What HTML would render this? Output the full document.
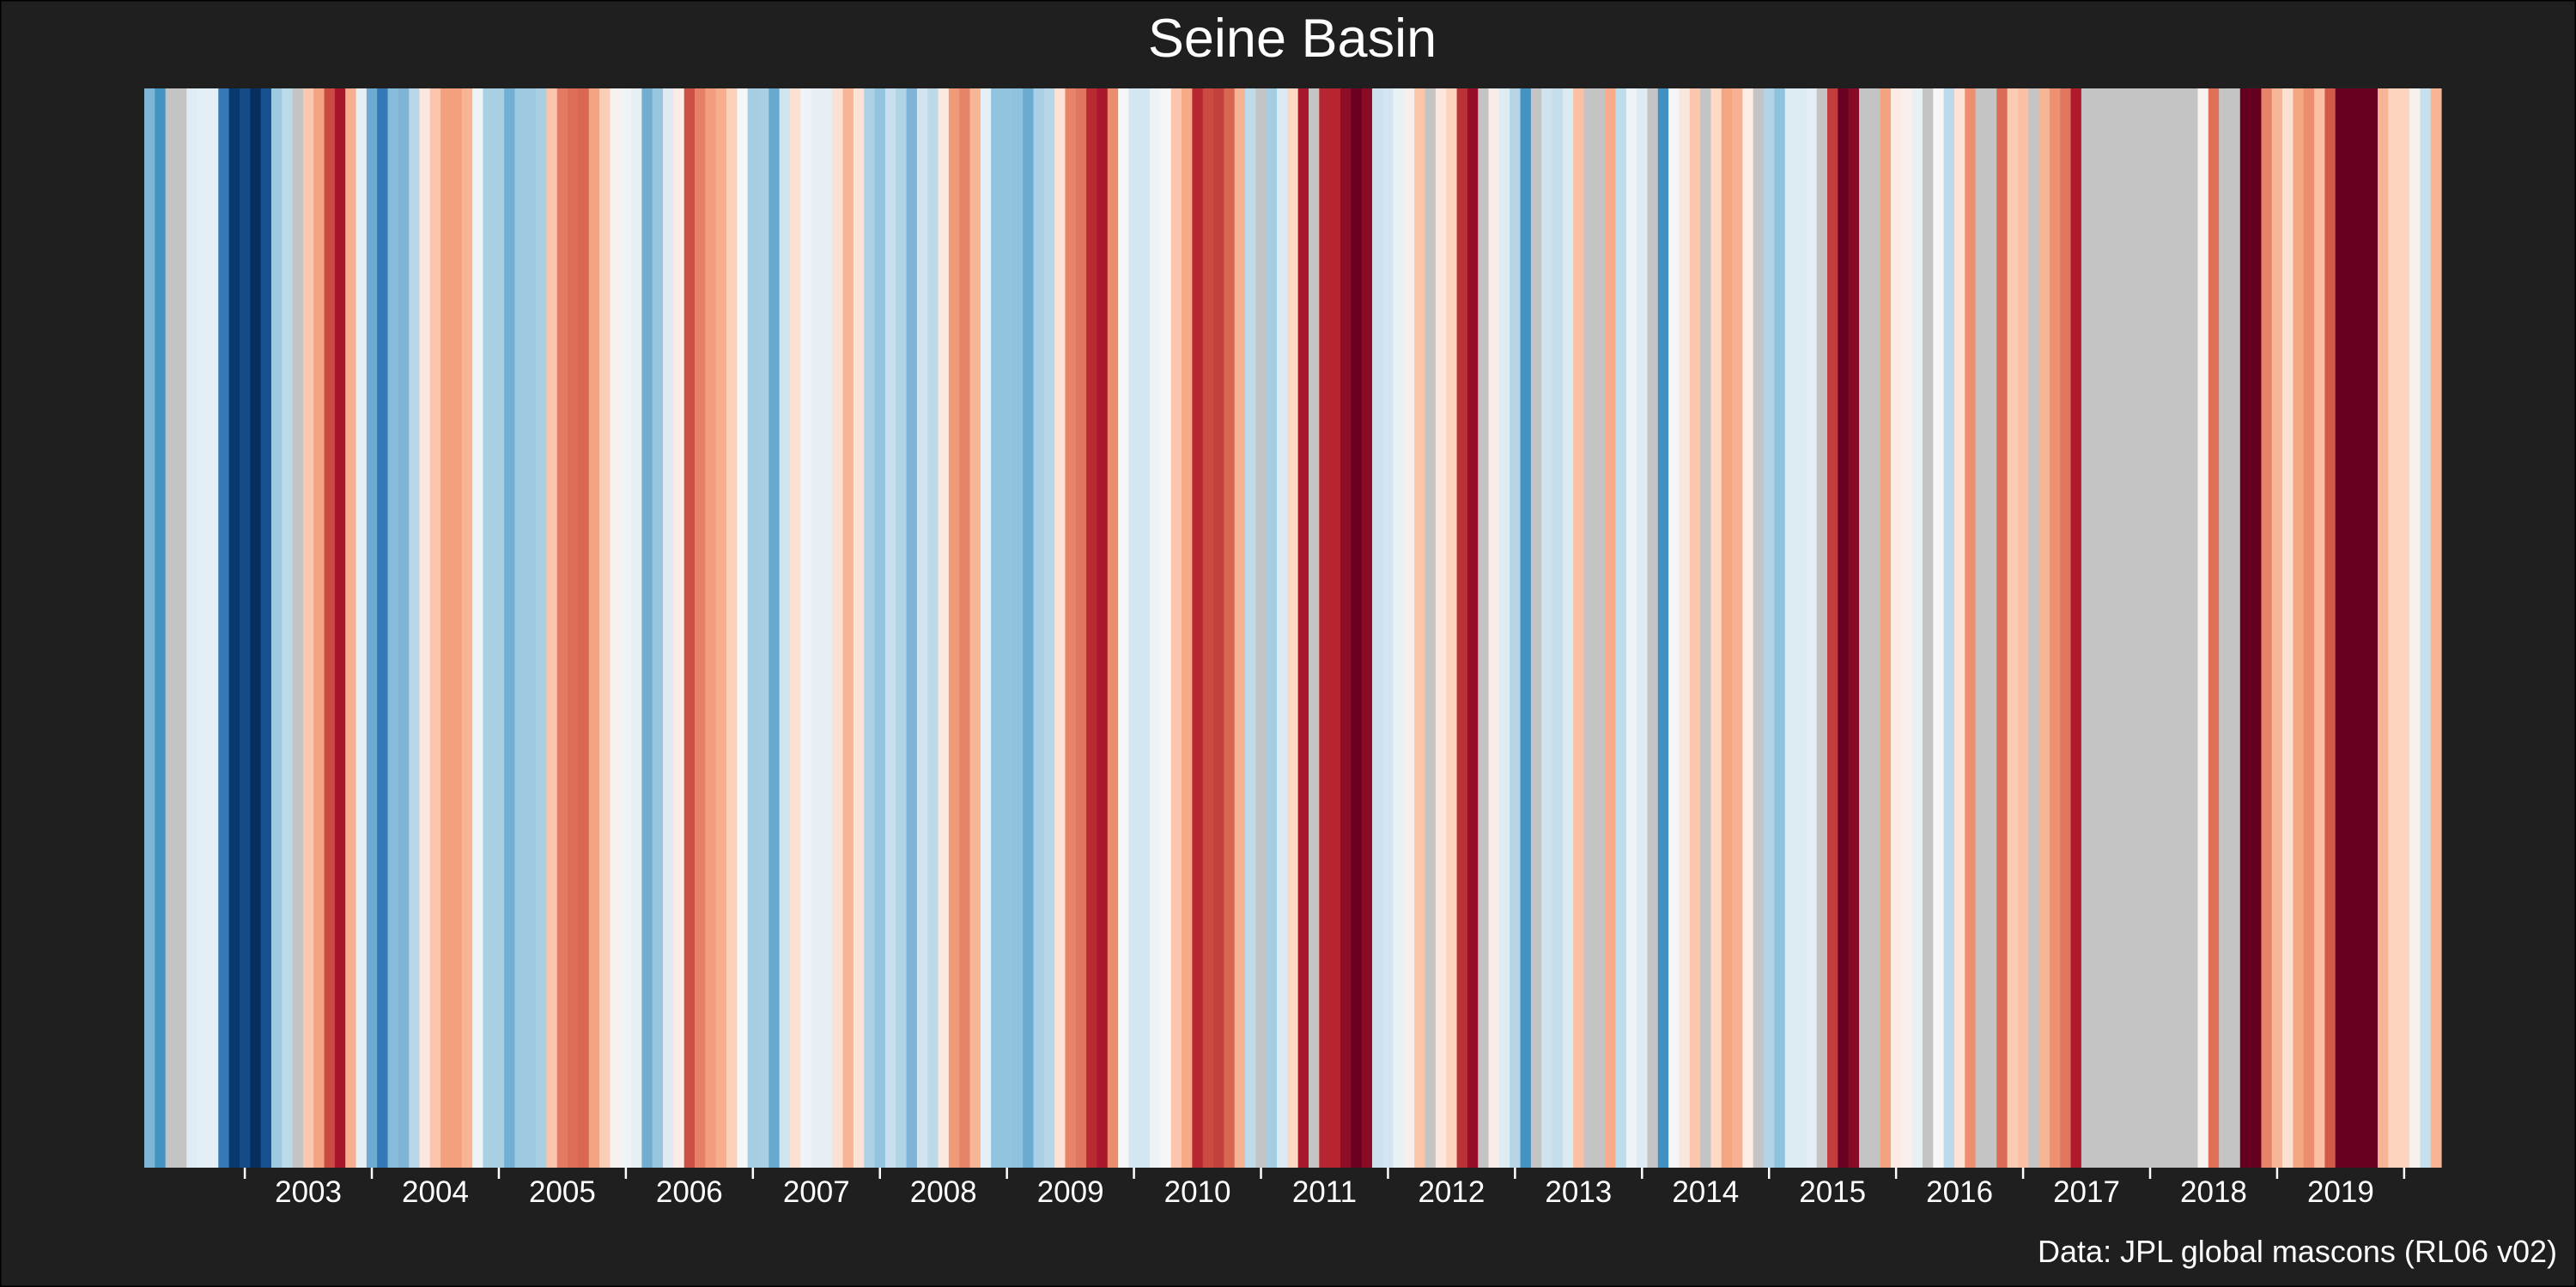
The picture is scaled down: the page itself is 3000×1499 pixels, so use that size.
<!DOCTYPE html>
<html><head><meta charset="utf-8"><style>
html,body{margin:0;padding:0;background:#1f1f1f;}
svg{display:block;}
text{font-family:"Liberation Sans",Arial,sans-serif;fill:#fff;}
</style></head><body>
<svg id="chart" width="3000" height="1499" viewBox="0 0 3000 1499" xmlns="http://www.w3.org/2000/svg">
<rect x="0" y="0" width="3000" height="1499" fill="#1f1f1f" stroke="#000" stroke-width="3"/>
<text x="1505" y="66" font-size="63" text-anchor="middle">Seine Basin</text>
<g id="stripes"></g>
<g id="xaxis"></g>
<text x="2978" y="1470" font-size="36" text-anchor="end">Data: JPL global mascons (RL06 v02)</text>
</svg>
<script>
// first month = April 2002 (month index 0)
const startYear = 2002;
const startMonth = 3; // 0-based, April
const stripeColors = [
"#7fb6d6","#4393c3","#c4c4c4","#c4c4c4","#e0ecf4","#e4eef5","#e4eef5","#3579b6","#083a6e","#154c88",
"#062f60","#175190","#9ecae1","#bbdbea","#c4c4c4","#fbc7ae","#f3a481","#cb4b42","#a8152b","#f6b08f",
"#e6eff6","#6eaad2","#3279b6","#87bcdb","#7fb4d6","#b9d7e8","#fbe7dd","#fcc5ab","#f3a07c","#f3a07c",
"#f8b595","#eef3f6","#a9cfe3","#a9cfe3","#71afd4","#9ecae1","#9ecae1","#aacfe3","#fbc5ab","#e47a62",
"#de6d57","#d96752","#f3a480","#fbcdb6","#f7f2f0","#f1f4f7","#e6eff3","#72aed2","#97c6de","#dfebf3",
"#fbede6","#cb5046","#e57f66","#f29e7c","#f7ae8c","#fcd0b9","#f5f6f7","#a5cde3","#a8cfe2","#67a9cf",
"#d1e5f0","#fce0d1","#eff3f7","#e7eef6","#e7eef6","#fbe0d3","#f7b596","#fce1d4","#acd1e4","#92c4df",
"#c7dfee","#b0d4e6","#7fb4d6","#d1e4f0","#bcd9ea","#fbe8de","#f09a78","#e68468","#f7b696","#e6eff6",
"#91c4de","#91c4de","#8fc2dd","#6aacd0","#a9d0e4","#b7d6e8","#fde2d7","#e8836a","#e0765f","#b92b33",
"#a8172c","#ec8c6e","#f6f6f6","#d4e6f1","#d4e6f1","#edf2f5","#f5f6f6","#fbc6ad","#f6aa86","#b72731",
"#c94b42","#c3413d","#d96650","#f7b494","#bfdbea","#c4c4c4","#a4cde2","#dcebf3","#fcd7c3","#a8172c",
"#c4c4c4","#b72630","#b72630","#8e0e27","#6a0021","#890b26","#cde2ee","#d3e5f0","#e8f1f4","#f8efec",
"#fbc5aa","#c4c4c4","#fce7de","#fcd3bd","#bb3235","#960d29","#c4c4c4","#f8ece9","#deebf3","#b5d5e7",
"#4393c3","#c4c4c4","#cfe2ef","#c5deeb","#dbe9f3","#fbbfa4","#c4c4c4","#c4c4c4","#f7ad8c","#bfdcea",
"#eef3f7","#deebf3","#c4c4c4","#4290c2","#f6f6f6","#f9e7de","#fbc6ad","#c4c4c4","#fdd9c6","#f4a682",
"#f7b091","#fbede6","#c4c4c4","#b3d4e7","#8fc3dd","#ddebf3","#ddebf3","#e2edf5","#c4c4c4","#c13d3c",
"#6a0021","#870a26","#c4c4c4","#c4c4c4","#f2a380","#fbebe3","#f9f0ee","#e7f0f3","#c4c4c4","#f6f6f6",
"#bcd9ea","#fde3d7","#ec8f71","#c4c4c4","#c4c4c4","#db6b56","#fccbb4","#fac0a5","#c4c4c4","#f7b597",
"#ed9173","#e07861","#b1192c","#c4c4c4","#c4c4c4","#c4c4c4","#c4c4c4","#c4c4c4","#c4c4c4","#c4c4c4",
"#c4c4c4","#c4c4c4","#c4c4c4","#c4c4c4","#f8f2f0","#e07058","#c4c4c4","#c4c4c4","#67001f","#67001f",
"#e7836a","#f7b696","#fce0d1","#f4a582","#ec8d70","#fbbfa3","#d15a4a","#67001f","#67001f","#67001f",
"#67001f","#f7b496","#fdd4bd","#fdd4bd","#f8f0ec","#c6e0ed","#f7b596"
];
const tickYears = [2003,2004,2005,2006,2007,2008,2009,2010,2011,2012,2013,2014,2015,2016,2017,2018,2019,2020];
const labelYears = [2003,2004,2005,2006,2007,2008,2009,2010,2011,2012,2013,2014,2015,2016,2017,2018,2019];

const NS = "http://www.w3.org/2000/svg";
const plotL = 168, plotR = 2843, plotT = 103, plotB = 1360;
const n = stripeColors.length;
const bw = (plotR - plotL) / n;
function xMonth(i){ return plotL + i * bw; }
function xYear(y){ return xMonth((y - startYear) * 12 - startMonth) + bw / 2; }

const sg = document.getElementById('stripes');
stripeColors.forEach((c, i) => {
  const r = document.createElementNS(NS, 'rect');
  r.setAttribute('x', xMonth(i));
  r.setAttribute('y', plotT);
  r.setAttribute('width', bw + 0.6);
  r.setAttribute('height', plotB - plotT);
  r.setAttribute('fill', c);
  
  
  sg.appendChild(r);
});
const ax = document.getElementById('xaxis');
tickYears.forEach(y => {
  const l = document.createElementNS(NS, 'line');
  const x = xYear(y);
  l.setAttribute('x1', x); l.setAttribute('x2', x);
  l.setAttribute('y1', plotB); l.setAttribute('y2', plotB + 13);
  l.setAttribute('stroke', '#ffffff'); l.setAttribute('stroke-width', '2.5');
  
  
  ax.appendChild(l);
});
labelYears.forEach(y => {
  const t = document.createElementNS(NS, 'text');
  t.setAttribute('x', (xYear(y) + xYear(y + 1)) / 2);
  t.setAttribute('y', 1400);
  t.setAttribute('font-size', '35');
  t.setAttribute('text-anchor', 'middle');
  t.textContent = y;
  
  
  ax.appendChild(t);
});
</script>
</body></html>
